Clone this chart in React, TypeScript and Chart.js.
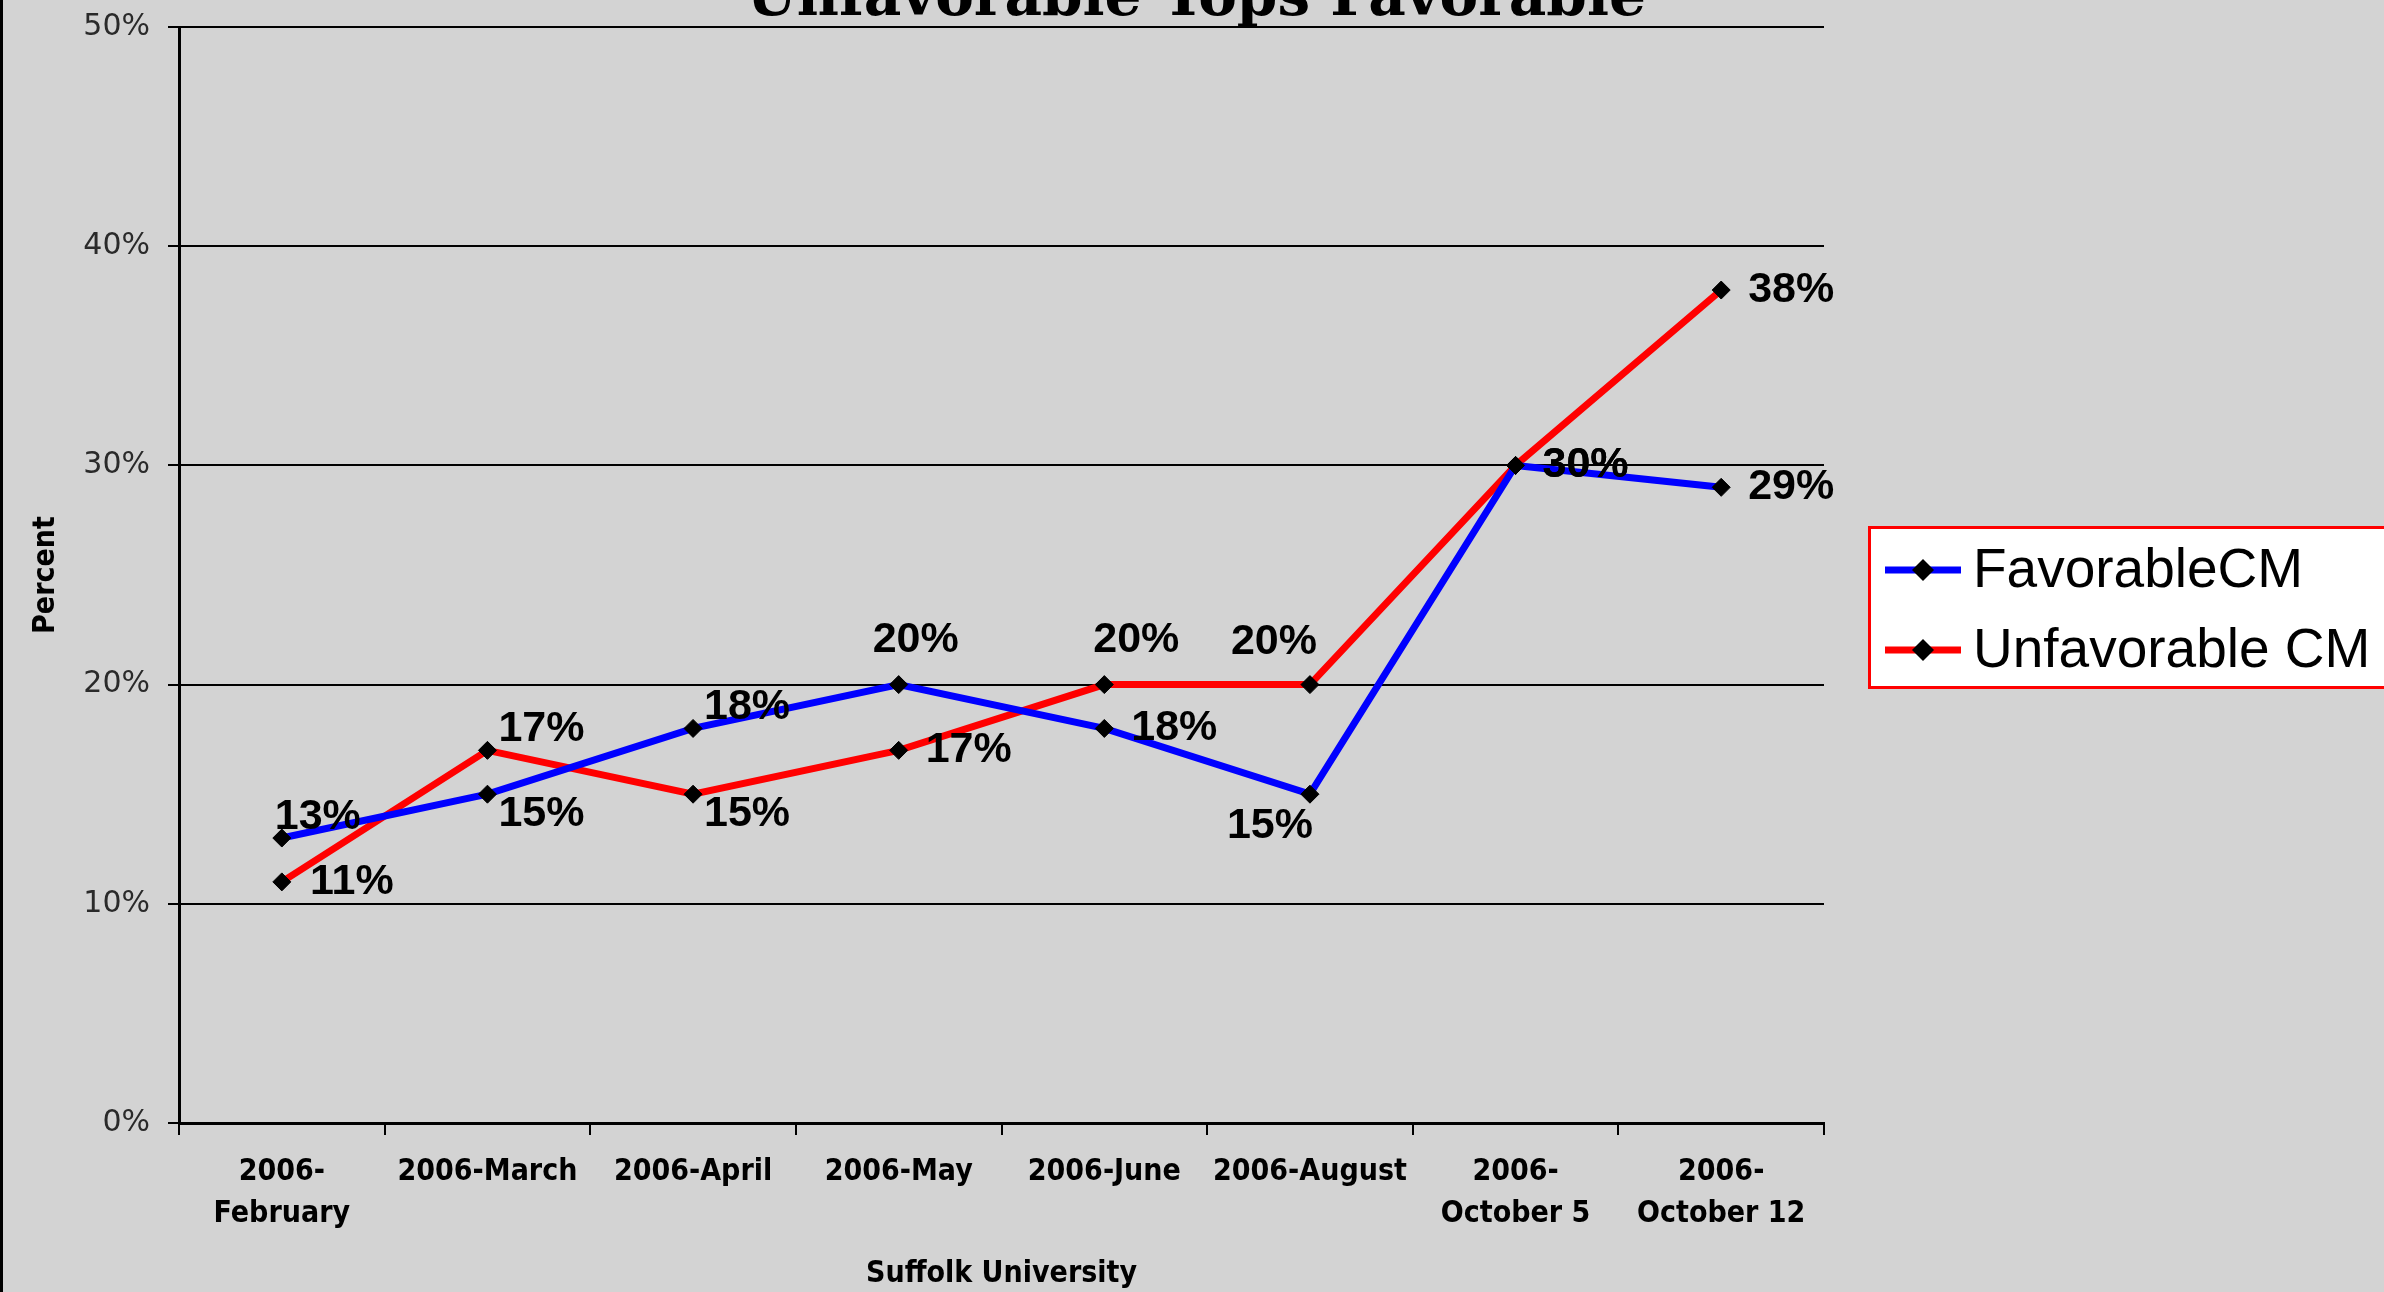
import React, { useEffect, useRef } from "react";
import { Chart, registerables } from "chart.js";

Chart.register(...registerables);

// ---- data ----
const categories: (string | string[])[] = [
  ["2006-", "February"],
  "2006-March",
  "2006-April",
  "2006-May",
  "2006-June",
  "2006-August",
  ["2006-", "October 5"],
  ["2006-", "October 12"],
];
const favorable = [13, 15, 18, 20, 18, 15, 30, 29];
const unfavorable = [11, 17, 15, 17, 20, 20, 30, 38];
const yTickValues = [0, 10, 20, 30, 40, 50];
const seriesNames = ["FavorableCM", "Unfavorable CM"];
const chartTitle = "Unfavorable Tops Favorable";
const yAxisTitle = "Percent";
const xAxisTitle = "Suffolk University";

// label placement keywords (style, not data)
const favPlacement = ["aboveNear", "belowRight", "aboveRight", "above", "right", "belowLeft", "right", "right"];
const unfPlacement = ["right", "aboveRight", "belowRight", "right", "aboveR", "aboveLeft", "right", "right"];

const placementOffsets: Record<string, [number, number]> = {
  right: [70, 0],
  above: [17, -44],
  aboveR: [32, -44],
  aboveNear: [36, -21],
  aboveRight: [54, -21],
  belowRight: [54, 20],
  aboveLeft: [-36, -42],
  belowLeft: [-40, 32],
};

const W = 2384;
const H = 1292;
const condensed = "'DejaVu Sans Condensed', 'Liberation Sans Narrow', 'DejaVu Sans', sans-serif";

const decorPlugin = {
  id: "decor",
  beforeDraw(chart: any) {
    const ctx = chart.ctx;
    ctx.save();
    ctx.fillStyle = "#d3d3d3";
    ctx.fillRect(0, 0, chart.width, chart.height);
    ctx.restore();
  },
  afterDatasetsDraw(chart: any) {
    const ctx = chart.ctx;
    ctx.save();
    ctx.font = "bold 43px 'Liberation Sans', Arial, sans-serif";
    ctx.fillStyle = "#000";
    ctx.textAlign = "center";
    ctx.textBaseline = "middle";
    const placements = [favPlacement, unfPlacement];
    chart.data.datasets.forEach((ds: any, di: number) => {
      const meta = chart.getDatasetMeta(di);
      meta.data.forEach((pt: any, i: number) => {
        const off = placementOffsets[placements[di][i]] || [70, 0];
        ctx.fillText(`${ds.data[i]}%`, pt.x + off[0], pt.y + off[1]);
      });
    });
    ctx.restore();
  },
  afterDraw(chart: any) {
    const ctx = chart.ctx;
    ctx.save();
    // title (cut off at top)
    ctx.font = "bold 58px 'DejaVu Serif', serif";
    ctx.fillStyle = "#000";
    ctx.textAlign = "center";
    ctx.textBaseline = "alphabetic";
    ctx.fillText(chartTitle, 1196, 15);

    // left border bar
    ctx.fillStyle = "#000";
    ctx.fillRect(0, 0, 3, chart.height);

    // legend
    const bx = 1869, by = 527, bh = 160;
    ctx.fillStyle = "#fff";
    ctx.fillRect(bx, by, chart.width - bx + 10, bh);
    ctx.strokeStyle = "#ff0000";
    ctx.lineWidth = 3;
    ctx.strokeRect(bx + 0.5, by + 0.5, chart.width - bx + 20, bh);
    chart.data.datasets.forEach((ds: any, i: number) => {
      const y = 570 + i * 80;
      ctx.strokeStyle = ds.borderColor;
      ctx.lineWidth = 7;
      ctx.beginPath();
      ctx.moveTo(1885, y);
      ctx.lineTo(1961, y);
      ctx.stroke();
      ctx.fillStyle = "#000";
      ctx.beginPath();
      ctx.moveTo(1923, y - 11);
      ctx.lineTo(1934, y);
      ctx.lineTo(1923, y + 11);
      ctx.lineTo(1912, y);
      ctx.closePath();
      ctx.fill();
      ctx.font = "55px 'Liberation Sans', Arial, sans-serif";
      ctx.textAlign = "left";
      ctx.textBaseline = "middle";
      ctx.fillText(ds.label, 1973, y + 2);
    });
    ctx.restore();
  },
};

export default function App() {
  const canvasRef = useRef<HTMLCanvasElement | null>(null);

  useEffect(() => {
    document.body.style.margin = "0";
    const canvas = canvasRef.current;
    if (!canvas) return;
    const makeDs = (label: string, data: number[], color: string) => ({
      label,
      data,
      borderColor: color,
      backgroundColor: "#000",
      borderWidth: 7,
      pointStyle: "rectRot",
      pointRadius: 9,
      pointBackgroundColor: "#000",
      pointBorderColor: "#000",
      pointBorderWidth: 1,
      tension: 0,
    });
    const chart = new Chart(canvas, {
      type: "line",
      data: {
        labels: categories as any,
        datasets: [
          makeDs(seriesNames[0], favorable, "#0000ff"),
          makeDs(seriesNames[1], unfavorable, "#ff0000"),
        ] as any,
      },
      options: {
        responsive: false,
        animation: false,
        events: [],
        layout: { padding: { left: 0, top: 27, right: W - 1824, bottom: 0 } },
        plugins: {
          legend: { display: false },
          title: { display: false },
          tooltip: { enabled: false },
        },
        scales: {
          x: {
            type: "category",
            offset: true,
            grid: {
              offset: true,
              drawOnChartArea: false,
              drawTicks: true,
              tickLength: 12,
              color: "#000",
              lineWidth: 2,
            },
            border: { color: "#000", width: 3 },
            ticks: {
              autoSkip: false,
              maxRotation: 0,
              minRotation: 0,
              padding: 16,
              color: "#000",
              font: { family: condensed, weight: "bold", size: 30, lineHeight: 1.4 },
            },
            title: {
              display: true,
              text: xAxisTitle,
              color: "#000",
              padding: { top: 0, bottom: 0 },
              font: { family: condensed, weight: "bold", size: 30, lineHeight: 1.2 },
            },
            afterFit(scale: any) {
              scale.height = H - 1123;
              scale.paddingLeft = 0;
              scale.paddingRight = 0;
            },
          },
          y: {
            min: 0,
            max: 50,
            afterBuildTicks(scale: any) {
              scale.ticks = yTickValues.map((v) => ({ value: v }));
            },
            grid: {
              color: "#000",
              lineWidth: 2,
              drawTicks: true,
              tickLength: 11,
            },
            border: { color: "#000", width: 3 },
            ticks: {
              padding: 18,
              color: "#2a2a2a",
              font: { family: "'DejaVu Sans', Verdana, sans-serif", size: 30 },
              callback: (v: any) => `${v}%`,
            },
            title: {
              display: true,
              text: yAxisTitle,
              color: "#000",
              padding: { top: 28, bottom: 0 },
              font: { family: condensed, weight: "bold", size: 30, lineHeight: 1.2 },
            },
            afterFit(scale: any) {
              scale.width = 179;
              scale.paddingTop = 0;
              scale.paddingBottom = 0;
            },
          },
        },
      },
      plugins: [decorPlugin],
    });
    return () => chart.destroy();
  }, []);

  return (
    <div style={{ position: "absolute", left: 0, top: 0, width: W, height: H, background: "#d3d3d3" }}>
      <canvas ref={canvasRef} width={W} height={H} style={{ display: "block" }} />
    </div>
  );
}
